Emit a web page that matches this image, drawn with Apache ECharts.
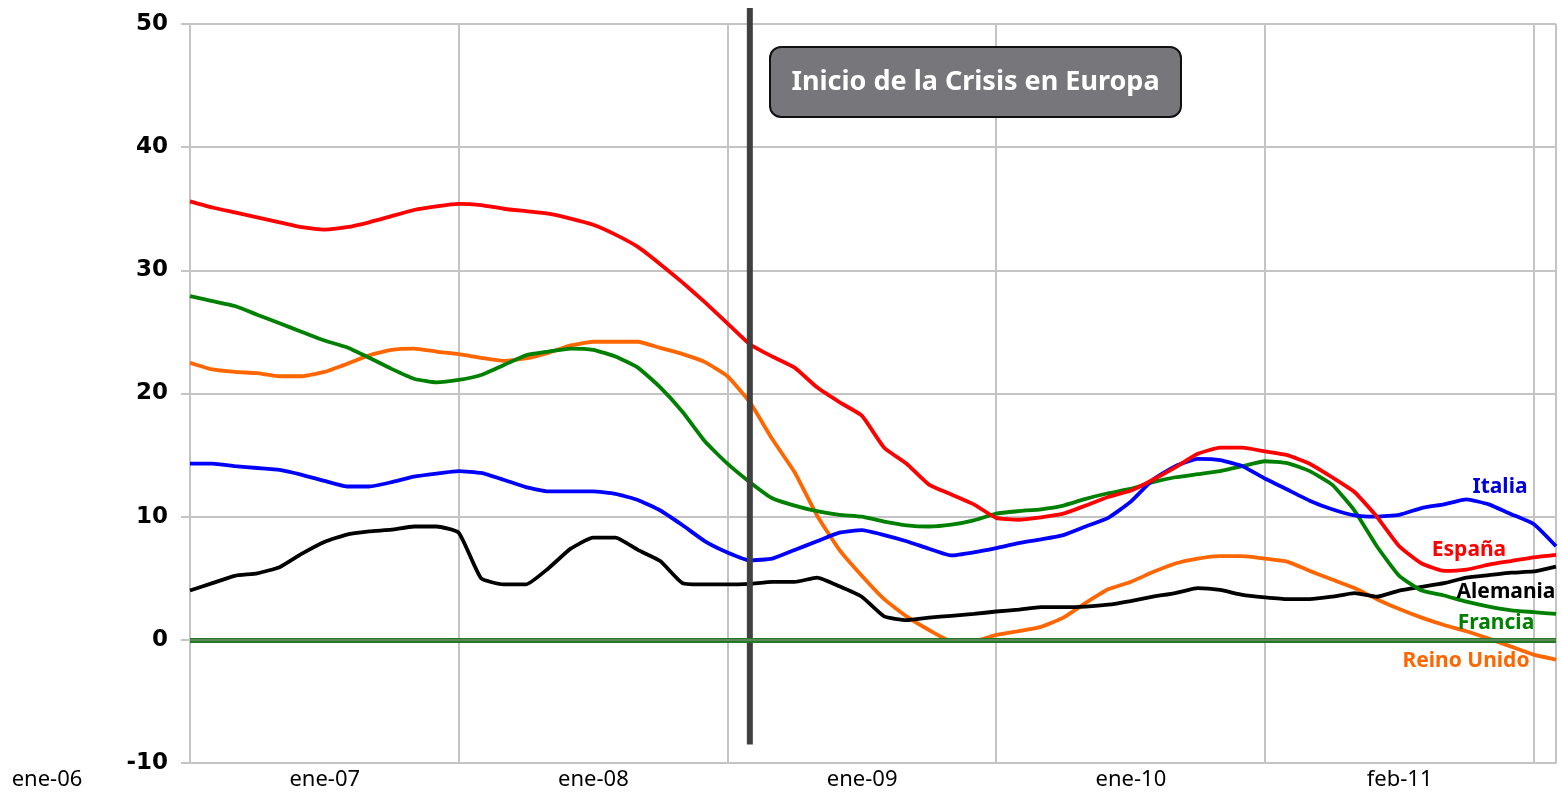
<!DOCTYPE html>
<html>
<head>
<meta charset="utf-8">
<title>Inicio de la Crisis en Europa</title>
<script src="https://cdn.jsdelivr.net/npm/echarts@6/dist/echarts.min.js"></script>
<style>
  html, body { margin: 0; padding: 0; background: #fff; }
  #main { width: 1562px; height: 792px; }
</style>
</head>
<body>
<div id="main"></div>
<script>
// etiquetas del eje x (una cada 12 meses, contando desde ene-06)
var xTickLabels = ['ene-06', 'ene-07', 'ene-08', 'ene-09', 'ene-10', 'feb-11'];
var crisisMonth = 25;          // mes del inicio de la crisis
var crisisSpan = [51.3, -8.5]; // extremos de la linea vertical

// valores mensuales (mes 0 .. 61)
var espana = [35.6, 35.1, 34.7, 34.3, 33.9, 33.5, 33.3, 33.5, 33.9, 34.4,
  34.9, 35.2, 35.4, 35.3, 35.0, 34.8, 34.6, 34.2, 33.7, 32.9,
  31.9, 30.5, 29.0, 27.4, 25.7, 24.0, 23.0, 22.1, 20.5, 19.3,
  18.2, 15.6, 14.3, 12.6, 11.8, 11.0, 9.9, 9.75, 9.95, 10.25,
  10.9, 11.6, 12.1, 13.0, 14.0, 15.1, 15.6, 15.6, 15.3, 15.0,
  14.3, 13.2, 12.0, 10.0, 7.6, 6.2, 5.6, 5.7, 6.1, 6.4,
  6.7, 6.9];
var francia = [27.9, 27.5, 27.1, 26.4, 25.7, 25.0, 24.3, 23.75, 22.9, 22.0,
  21.2, 20.9, 21.1, 21.5, 22.3, 23.1, 23.4, 23.65, 23.55, 23.0,
  22.1, 20.5, 18.5, 16.1, 14.3, 12.8, 11.5, 10.9, 10.45, 10.15,
  10.0, 9.6, 9.3, 9.2, 9.35, 9.7, 10.25, 10.45, 10.6, 10.9,
  11.45, 11.9, 12.25, 12.8, 13.2, 13.45, 13.7, 14.1, 14.5, 14.35,
  13.7, 12.6, 10.5, 7.6, 5.2, 4.0, 3.6, 3.1, 2.7, 2.4,
  2.25, 2.1];
var italia = [14.3, 14.3, 14.1, 13.95, 13.8, 13.4, 12.9, 12.45, 12.45, 12.8,
  13.25, 13.5, 13.7, 13.55, 13.0, 12.4, 12.05, 12.05, 12.05, 11.85,
  11.35, 10.5, 9.3, 8.0, 7.1, 6.45, 6.6, 7.3, 8.0, 8.7,
  8.9, 8.5, 8.0, 7.4, 6.85, 7.1, 7.45, 7.85, 8.15, 8.5,
  9.2, 9.9, 11.2, 13.0, 14.1, 14.7, 14.6, 14.1, 13.1, 12.2,
  11.3, 10.6, 10.1, 10.0, 10.15, 10.7, 11.0, 11.4, 11.0, 10.2,
  9.4, 7.6];
var reinoUnido = [22.5, 21.95, 21.75, 21.65, 21.4, 21.4, 21.75, 22.4, 23.1, 23.55,
  23.65, 23.4, 23.2, 22.9, 22.65, 22.85, 23.3, 23.9, 24.2, 24.2,
  24.2, 23.7, 23.2, 22.55, 21.4, 19.3, 16.3, 13.6, 10.1, 7.3,
  5.2, 3.3, 1.9, 0.8, -0.1, -0.1, 0.4, 0.7, 1.05, 1.8,
  3.0, 4.1, 4.7, 5.5, 6.2, 6.6, 6.8, 6.8, 6.6, 6.35,
  5.6, 4.9, 4.2, 3.3, 2.5, 1.8, 1.2, 0.7, 0.1, -0.55,
  -1.2, -1.6];
var alemania = [4.0, 4.6, 5.2, 5.4, 5.9, 7.0, 7.95, 8.55, 8.8, 8.95,
  9.2, 9.2, 8.7, 5.0, 4.5, 4.5, 5.8, 7.4, 8.3, 8.3,
  7.3, 6.4, 4.6, 4.5, 4.5, 4.55, 4.7, 4.7, 5.05, 4.35,
  3.5, 1.9, 1.6, 1.8, 1.95, 2.1, 2.3, 2.45, 2.65, 2.65,
  2.7, 2.85, 3.15, 3.5, 3.8, 4.2, 4.05, 3.65, 3.45, 3.3,
  3.3, 3.5, 3.8, 3.5, 4.0, 4.3, 4.6, 5.05, 5.25, 5.45,
  5.55, 5.95];

var chartDom = document.getElementById('main');
var myChart = echarts.init(chartDom, null, { renderer: 'canvas' });

// pasar la lista de valores a pares [mes, valor]
function toPairs(arr) {
  return arr.map(function (v, i) { return [i, v]; });
}

function lineSeries(name, data, color) {
  return {
    name: name,
    type: 'line',
    data: toPairs(data),
    symbol: 'none',
    smooth: 0.15,
    lineStyle: { color: color, width: 3.8 },
    z: 3
  };
}

var gridColor = '#c4c4c4';
var labelFont = 'bold 21px "Noto Sans"';

function countryLabel(text, x, y, color) {
  return {
    type: 'text', x: x, y: y, z: 100,
    style: { text: text, fill: color, font: labelFont, align: 'center', verticalAlign: 'middle' }
  };
}

var option = {
  animation: false,
  backgroundColor: '#fff',
  grid: { left: 190, right: 6, top: 24, bottom: 29, outerBoundsMode: 'none' },
  xAxis: {
    type: 'value',
    min: 0,
    max: 61,
    interval: 12,
    axisLine: { show: true, onZero: false, lineStyle: { color: gridColor, width: 2 } },
    axisTick: { show: false },
    splitLine: { show: true, lineStyle: { color: gridColor, width: 2 } },
    axisLabel: {
      color: '#000',
      fontFamily: 'Noto Sans',
      fontSize: 22,
      margin: 6,
      align: 'center',
      // desplazar la etiqueta medio intervalo a la izquierda
      padding: [0, 268, 0, 0],
      rich: {
        first: { fontFamily: 'Noto Sans', fontSize: 22, color: '#000', padding: [0, 18, 0, 0] }
      },
      formatter: function (v) {
        if (v % 12 !== 0) return '';
        var s = xTickLabels[v / 12] || '';
        return v === 0 ? '{first|' + s + '}' : s;
      }
    }
  },
  yAxis: {
    type: 'value',
    min: -10,
    max: 50,
    interval: 10,
    axisLine: { show: true, lineStyle: { color: gridColor, width: 2 } },
    axisTick: { show: true, length: 9, lineStyle: { color: gridColor, width: 2 } },
    splitLine: { show: true, lineStyle: { color: gridColor, width: 2 } },
    axisLabel: {
      color: '#000',
      fontFamily: 'DejaVu Sans',
      fontWeight: 'bold',
      fontSize: 23,
      margin: 22,
      padding: [5, 0, 0, 0]
    }
  },
  series: [
    lineSeries('Reino Unido', reinoUnido, '#ff6600'),
    lineSeries('Alemania', alemania, '#000000'),
    lineSeries('Francia', francia, '#008000'),
    lineSeries('Italia', italia, '#0000ff'),
    lineSeries('España', espana, '#ff0000'),
    {
      // linea del cero
      name: 'cero',
      type: 'line',
      data: [],
      markLine: {
        silent: true,
        symbol: 'none',
        label: { show: false },
        data: [
          { yAxis: 0, lineStyle: { color: '#237a23', width: 5, type: 'solid' } },
          { yAxis: 0, lineStyle: { color: '#6f8a6f', width: 1.5, type: 'solid' } }
        ]
      },
      z: 2
    },
    {
      // inicio de la crisis
      name: 'crisis',
      type: 'line',
      data: [[crisisMonth, crisisSpan[0]], [crisisMonth, crisisSpan[1]]],
      symbol: 'none',
      clip: false,
      lineStyle: { color: '#404040', width: 6 },
      z: 4
    }
  ],
  graphic: [
    {
      type: 'rect',
      z: 100,
      shape: { x: 770, y: 47, width: 411, height: 70, r: 11 },
      style: { fill: '#77777b', stroke: '#111', lineWidth: 2 }
    },
    {
      type: 'text',
      z: 101,
      x: 975.5,
      y: 82,
      style: {
        text: 'Inicio de la Crisis en Europa',
        fill: '#fff',
        font: 'bold 27px "Noto Sans"',
        align: 'center',
        verticalAlign: 'middle'
      }
    },
    // nombres de los paises
    countryLabel('Italia', 1500, 487, '#0000dd'),
    countryLabel('España', 1469, 550, '#ff0000'),
    countryLabel('Alemania', 1506, 592, '#000'),
    countryLabel('Francia', 1496, 623, '#008000'),
    countryLabel('Reino Unido', 1466, 661, '#ff6600')
  ]
};

myChart.setOption(option);
</script>
</body>
</html>
